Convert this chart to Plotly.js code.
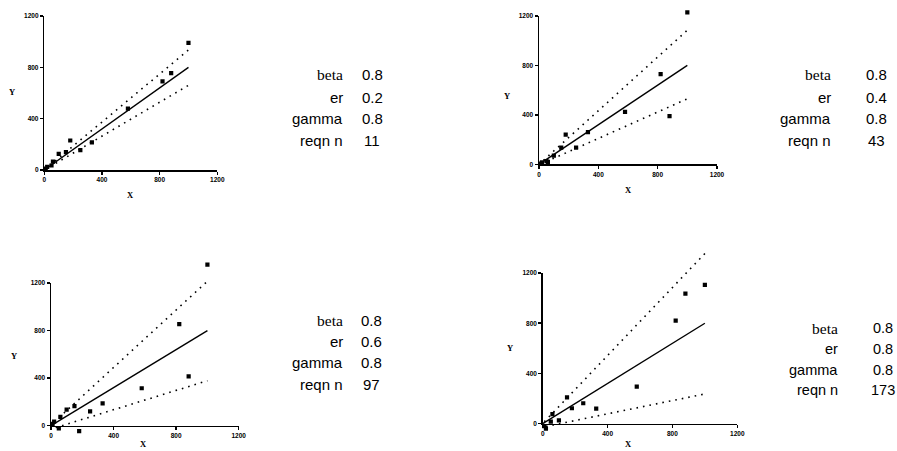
<!DOCTYPE html>
<html>
<head>
<meta charset="utf-8">
<script src="https://cdn.plot.ly/plotly-3.0.1.min.js"></script>
<style>html,body{margin:0;padding:0;background:#fff;}#chart{width:897px;height:451px;}</style>
</head>
<body>
<div id="chart"></div>
<script>
// ---- data ----
const xVals = [10, 20, 50, 60, 100, 150, 180, 250, 330, 580, 820, 880, 1000];
const y1 = [10, 25, 35, 65, 125, 140, 230, 155, 215, 478, 690, 755, 990];
const y2 = [5, 15, 25, 20, 70, 135, 240, 135, 260, 425, 730, 390, 1230];
const y3 = [15, 35, -22, 75, 135, 165, -45, 120, 188, 315, 855, 415, 1355];
const y4 = [-20, -40, 16, 77, 27, 210, 123, 163, 120, 295, 820, 1035, 1105];

const fitX = [0, 1000];
const fitY = [0, 800];

const upX1 = [40, 1000], upY1 = [37, 935],  loX1 = [40, 1000], loY1 = [26, 660];
const upX2 = [30, 1000], upY2 = [32, 1085], loX2 = [50, 1000], loY2 = [22, 530];
const upX3 = [20, 1000], upY3 = [30, 1215], loX3 = [30, 1000], loY3 = [-16, 378];
const upX4 = [10, 1000], upY4 = [15, 1355], loX4 = [20, 1000], loY4 = [-22, 237];

const paramLabels = ['beta', 'er', 'gamma', 'reqn n'];
const vals1 = ['0.8', '0.2', '0.8', '11'];
const vals2 = ['0.8', '0.4', '0.8', '43'];
const vals3 = ['0.8', '0.6', '0.8', '97'];
const vals4 = ['0.8', '0.8', '0.8', '173'];

const tickVals = [0, 400, 800, 1200];
const tickText = ['0', '400', '800', '1200'];
const axisRange = [0, 1200];

// ---- layout geometry (pixels) ----
const W = 897, H = 451;
const px = v => v / W;
const py = v => 1 - v / H;

const panels = [
  {f: {x0: 44.3, x1: 217.3, yb: 170, yt: 16}, ys: y1, up: [upX1, upY1], lo: [loX1, loY1], vals: vals1,
   padTop: 15, xt: [130.5, 195], yt: [12, 92], lr: 345, vc: 372, fs: 15, rows: [75, 97, 118, 140]},
  {f: {x0: 539, x1: 717, yb: 164.3, yt: 16}, ys: y2, up: [upX2, upY2], lo: [loX2, loY2], vals: vals2,
   padTop: 15, xt: [628, 190], yt: [507, 96], lr: 833, vc: 876, fs: 15, rows: [75, 97, 118, 140]},
  {f: {x0: 51, x1: 238.7, yb: 425.7, yt: 283}, ys: y3, up: [upX3, upY3], lo: [loX3, loY3], vals: vals3,
   padTop: 30, xt: [143, 444], yt: [14, 356], lr: 345, vc: 371, fs: 15, rows: [320, 341, 362, 384]},
  {f: {x0: 542.7, x1: 737.3, yb: 423.7, yt: 273}, ys: y4, up: [upX4, upY4], lo: [loX4, loY4], vals: vals4,
   padTop: 30, xt: [628, 444], yt: [510, 348], lr: 840, vc: 883, fs: 14.5, rows: [328, 349, 370, 390]}
];

const tickFont = {family: 'Liberation Sans', size: 6.5, color: '#000', weight: 700};
const traces = [];
const layout = {
  width: W, height: H,
  margin: {l: 0, r: 0, t: 0, b: 0, pad: 0},
  paper_bgcolor: '#fff',
  plot_bgcolor: 'rgba(0,0,0,0)',
  showlegend: false,
  annotations: []
};

panels.forEach((p, i) => {
  const n = i + 1;          // frame axes
  const m = i + 5;          // data axes
  const f = p.f;
  const sx = (f.x1 - f.x0) / 1200;
  const sy = (f.yb - f.yt) / 1200;
  const padL = 5, padR = 12, padB = 12, padT = p.padTop;

  const fx = n === 1 ? 'xaxis' : 'xaxis' + n;
  const fy = n === 1 ? 'yaxis' : 'yaxis' + n;
  layout[fx] = {
    domain: [px(f.x0), px(f.x1)], range: axisRange, anchor: 'y' + (n === 1 ? '' : n),
    showline: true, linecolor: '#000', linewidth: 1.5, mirror: false,
    ticks: 'outside', ticklen: 3, tickwidth: 1.5, tickcolor: '#000',
    tickvals: tickVals, ticktext: tickText, tickfont: tickFont,
    showgrid: false, zeroline: false, fixedrange: true
  };
  layout[fy] = {
    domain: [py(f.yb), py(f.yt)], range: axisRange, anchor: 'x' + (n === 1 ? '' : n),
    showline: true, linecolor: '#000', linewidth: 1.5, mirror: false,
    ticks: 'outside', ticklen: 3, tickwidth: 1.5, tickcolor: '#000',
    tickvals: tickVals, ticktext: tickText, tickfont: tickFont,
    showgrid: false, zeroline: false, fixedrange: true
  };
  traces.push({x: [null], y: [null], xaxis: 'x' + (n === 1 ? '' : n), yaxis: 'y' + (n === 1 ? '' : n),
               mode: 'markers', hoverinfo: 'skip'});

  layout['xaxis' + m] = {
    domain: [px(f.x0 - padL), px(f.x1 + padR)],
    range: [0 - padL / sx, 1200 + padR / sx], anchor: 'y' + m, visible: false, fixedrange: true
  };
  layout['yaxis' + m] = {
    domain: [py(f.yb + padB), py(f.yt - padT)],
    range: [0 - padB / sy, 1200 + padT / sy], anchor: 'x' + m, visible: false, fixedrange: true
  };
  const xa = 'x' + m, ya = 'y' + m;
  traces.push({x: p.up[0], y: p.up[1], xaxis: xa, yaxis: ya, mode: 'lines',
               line: {color: '#000', width: 1.6, dash: '1.6px,5px'}, hoverinfo: 'skip'});
  traces.push({x: p.lo[0], y: p.lo[1], xaxis: xa, yaxis: ya, mode: 'lines',
               line: {color: '#000', width: 1.6, dash: '1.6px,5px'}, hoverinfo: 'skip'});
  traces.push({x: fitX, y: fitY, xaxis: xa, yaxis: ya, mode: 'lines',
               line: {color: '#000', width: 1.4}, hoverinfo: 'skip'});
  traces.push({x: xVals, y: p.ys, xaxis: xa, yaxis: ya, mode: 'markers',
               marker: {symbol: 'square', size: 4.2, color: '#000'}, hoverinfo: 'skip'});

  // axis titles
  layout.annotations.push({xref: 'paper', yref: 'paper', x: px(p.xt[0]), y: py(p.xt[1]),
    text: 'X', showarrow: false, xanchor: 'center', yanchor: 'middle',
    font: {family: 'Liberation Serif', size: 8.5, color: '#000', weight: 700}});
  layout.annotations.push({xref: 'paper', yref: 'paper', x: px(p.yt[0]), y: py(p.yt[1]),
    text: 'Y', showarrow: false, xanchor: 'center', yanchor: 'middle',
    font: {family: 'Liberation Serif', size: 8.5, color: '#000', weight: 700}});

  // parameter table
  paramLabels.forEach((lab, k) => {
    const serif = lab === 'beta';
    layout.annotations.push({xref: 'paper', yref: 'paper', x: px(p.lr), y: py(p.rows[k]),
      text: lab, showarrow: false, xanchor: 'right', yanchor: 'middle',
      font: {family: serif ? 'Liberation Serif' : 'Liberation Sans',
             size: serif ? 15.5 : p.fs, color: '#000'}});
    layout.annotations.push({xref: 'paper', yref: 'paper', x: px(p.vc), y: py(p.rows[k]),
      text: String(p.vals[k]), showarrow: false, xanchor: 'center', yanchor: 'middle',
      font: {family: 'Liberation Sans', size: p.fs, color: '#000'}});
  });
});

Plotly.newPlot('chart', traces, layout, {staticPlot: true, displayModeBar: false});
</script>
</body>
</html>
